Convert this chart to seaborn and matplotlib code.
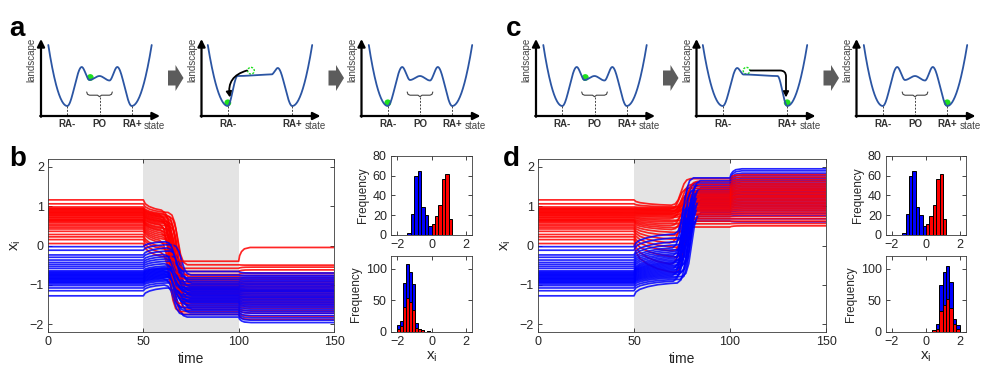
import numpy as np
import pandas as pd
import matplotlib
matplotlib.use("Agg")
import matplotlib.pyplot as plt
import matplotlib.patches as mpatches
import seaborn as sns

# ---------------------------------------------------------------- data
# initial states (t < 50), shared by panels b and d
red_start = [0.05, 0.15, 0.22, 0.28, 0.36, 0.42, 0.46, 0.50, 0.54, 0.58,
             0.61, 0.63, 0.65, 0.67, 0.70, 0.72, 0.75, 0.77, 0.79, 0.81,
             0.83, 0.85, 0.87, 0.89, 0.91, 0.93, 0.95, 0.98, 1.06, 1.16]
blue_start = [-1.28, -1.15, -1.08, -1.02, -0.98, -0.95, -0.93, -0.91, -0.89, -0.87,
              -0.85, -0.83, -0.81, -0.79, -0.77, -0.75, -0.73, -0.71, -0.69, -0.67,
              -0.64, -0.58, -0.53, -0.48, -0.43, -0.37, -0.30, -0.24, -0.12, -0.03]

# panel b: level just before the switch, plateau in the grey window, final level
b_red_mid = [-0.30, -0.20, -0.10, -0.05, 0.05, 0.10, 0.15, 0.20, 0.25, 0.30,
             0.35, 0.38, 0.42, 0.45, 0.50, 0.52, 0.55, 0.58, 0.60, 0.62,
             0.65, 0.67, 0.70, 0.72, 0.74, 0.76, 0.78, 0.80, 0.84, 0.88]
b_blue_mid = [-1.08, -1.00, -0.95, -0.90, -0.87, -0.84, -0.82, -0.80, -0.78, -0.76,
              -0.74, -0.72, -0.70, -0.68, -0.66, -0.64, -0.62, -0.60, -0.58, -0.56,
              -0.52, -0.46, -0.40, -0.34, -0.28, -0.22, -0.14, -0.06, 0.02, 0.10]
b_red_plateau = [-1.75, -1.68, -1.62, -1.57, -1.52, -1.47, -1.43, -1.39, -1.35, -1.31,
                 -1.27, -1.24, -1.21, -1.18, -1.15, -1.12, -1.09, -1.06, -1.03, -1.00,
                 -0.96, -0.92, -0.88, -0.84, -0.79, -0.74, -0.66, -0.58, -0.49, -0.40]
b_blue_plateau = [-1.82, -1.76, -1.71, -1.66, -1.62, -1.58, -1.54, -1.50, -1.46, -1.43,
                  -1.40, -1.37, -1.34, -1.31, -1.28, -1.25, -1.22, -1.19, -1.16, -1.13,
                  -1.10, -1.07, -1.04, -1.00, -0.96, -0.92, -0.87, -0.82, -0.75, -0.66]
b_red_final = [-1.88, -1.80, -1.72, -1.66, -1.60, -1.55, -1.50, -1.46, -1.42, -1.38,
               -1.34, -1.30, -1.26, -1.22, -1.18, -1.15, -1.12, -1.08, -1.04, -1.00,
               -0.96, -0.92, -0.87, -0.82, -0.76, -0.70, -0.62, -0.55, -0.50, -0.05]
b_blue_final = [-1.96, -1.90, -1.84, -1.78, -1.72, -1.67, -1.62, -1.57, -1.53, -1.49,
                -1.45, -1.41, -1.37, -1.33, -1.30, -1.26, -1.22, -1.18, -1.15, -1.12,
                -1.08, -1.04, -1.00, -0.96, -0.92, -0.88, -0.84, -0.80, -0.76, -0.70]

# panel d
d_red_mid = [-0.70, -0.50, -0.30, -0.15, -0.05, 0.05, 0.15, 0.25, 0.33, 0.40,
             0.45, 0.50, 0.55, 0.60, 0.64, 0.68, 0.72, 0.75, 0.78, 0.80,
             0.82, 0.84, 0.86, 0.88, 0.90, 0.92, 0.94, 0.96, 0.98, 1.02]
d_blue_mid = [-0.95, -0.90, -0.86, -0.82, -0.79, -0.76, -0.73, -0.70, -0.67, -0.64,
              -0.61, -0.58, -0.55, -0.52, -0.49, -0.46, -0.43, -0.40, -0.36, -0.32,
              -0.28, -0.24, -0.20, -0.15, -0.10, -0.05, 0.02, 0.10, 0.20, 0.30]
d_red_plateau = [0.47, 0.55, 0.62, 0.68, 0.73, 0.78, 0.82, 0.86, 0.90, 0.93,
                 0.96, 0.99, 1.02, 1.05, 1.08, 1.11, 1.14, 1.17, 1.20, 1.23,
                 1.26, 1.29, 1.32, 1.36, 1.40, 1.45, 1.50, 1.56, 1.63, 1.70]
d_blue_plateau = [0.62, 0.68, 0.74, 0.79, 0.84, 0.88, 0.92, 0.96, 1.00, 1.03,
                  1.06, 1.09, 1.12, 1.15, 1.18, 1.21, 1.24, 1.27, 1.30, 1.33,
                  1.36, 1.39, 1.42, 1.45, 1.48, 1.52, 1.56, 1.60, 1.65, 1.72]
d_red_final = [0.50, 0.56, 0.62, 0.68, 0.74, 0.80, 0.85, 0.90, 0.94, 0.98,
               1.02, 1.06, 1.10, 1.14, 1.18, 1.22, 1.25, 1.28, 1.32, 1.35,
               1.39, 1.42, 1.46, 1.50, 1.54, 1.58, 1.63, 1.68, 1.74, 1.80]
d_blue_final = [0.60, 0.68, 0.76, 0.82, 0.88, 0.93, 0.98, 1.02, 1.06, 1.10,
                1.14, 1.18, 1.22, 1.26, 1.30, 1.34, 1.38, 1.42, 1.46, 1.50,
                1.54, 1.58, 1.62, 1.66, 1.70, 1.74, 1.79, 1.84, 1.90, 1.95]

# switch times and transition profiles (fraction of change completed)
b_red_switch, b_blue_switch = 66.0, 68.0
d_red_switch, d_blue_switch = 76.0, 77.5
switch_spread = [0.0, -2.0, 1.5, -1.0, 2.5, -2.5, 1.0, -0.5, 2.0, -1.5]
b_onset_t = [50, 51, 53, 56, 60, 63]
b_onset_f = [0, 0.35, 0.6, 0.8, 0.95, 1]
d_onset_t = [50, 51, 53, 57, 62, 68, 74]
d_onset_f = [0, 0.3, 0.5, 0.7, 0.85, 0.95, 1]
switch_dt = [-5, -3, -1.5, 0, 1.5, 3, 5]
switch_f = [0, 0.05, 0.2, 0.5, 0.8, 0.95, 1]
release_t = [100, 100.5, 101.5, 103, 106]
release_f = [0, 0.4, 0.7, 0.9, 1]

# histograms
hist_top_blue_edges = [-1.4, -1.2, -1.0, -0.8, -0.6, -0.4, -0.2, 0.0]
hist_top_blue_counts = [2, 21, 60, 65, 28, 20, 9]
hist_top_red_edges = [0.0, 0.2, 0.4, 0.6, 0.8, 1.0, 1.2]
hist_top_red_counts = [11, 19, 30, 57, 62, 16]
hist_b_edges = [-2.0, -1.825, -1.65, -1.475, -1.3, -1.125, -0.95, -0.775, -0.6, -0.425, -0.25, -0.075]
hist_b_all = [11, 18, 78, 107, 95, 76, 14, 5, 3, 0, 1]
hist_b_red = [5, 9, 40, 54, 47, 34, 6, 4, 3, 0, 1]
hist_d_edges = [0.38, 0.58, 0.78, 0.98, 1.18, 1.38, 1.58, 1.78, 1.98]
hist_d_all = [3, 12, 75, 95, 105, 79, 21, 11]
hist_d_red = [3, 5, 33, 42, 52, 38, 12, 4]

# landscape schematics: key points (state, height) of extrema
land_po_x = [7.3, 26.3, 40.7, 48.5, 58.5, 68.5, 76.3, 90.7, 110.7]
land_po_y = [71, 10, 49, 36, 40, 35.5, 49, 10, 71]
land_neg_x = [6.3, 26.3, 36, 70, 76.3, 90.7, 110.7]
land_neg_y = [71, 10, 40, 41.5, 48, 10, 71]
land_pos_x = [6.3, 26.3, 40.7, 47, 81, 90.7, 110.7]
land_pos_y = [71, 10, 48, 41.5, 40, 10, 71]
state_names = ["RA-", "PO", "RA+"]
state_x = [26.3, 58.5, 90.7]
state_min_y = [10, 19.3, 10]
brace_x = [45.7, 46.5, 48.5, 56.5, 58.5, 60.5, 68.5, 70.5, 71.3]
brace_y = [24, 21.7, 20.8, 20.8, 19.3, 20.8, 20.8, 21.7, 24]

# ---------------------------------------------------------------- style
sns.set_style("ticks")
plt.rcParams["font.family"] = ["Liberation Sans", "DejaVu Sans"]
plt.rcParams["mathtext.fontset"] = "custom"
plt.rcParams["mathtext.rm"] = "Liberation Sans"
plt.rcParams["mathtext.it"] = "Liberation Sans"
TXT = "#262626"

W, H = 996, 374
fig = plt.figure(figsize=(W / 100, H / 100), dpi=100)


def px_axes(l, t, r, b):
    return fig.add_axes([l / W, 1 - b / H, (r - l) / W, (b - t) / H])


def style_axes(ax):
    for s in ax.spines.values():
        s.set_color("#3a3a3a")
        s.set_linewidth(0.6)
    ax.tick_params(direction="in", length=3, width=0.6, top=True, right=True,
                   colors=TXT, labelsize=9, pad=3)


# ---------------------------------------------------------------- top row: landscapes
ax_top = fig.add_axes([0, 1 - 140 / H, 1, 140 / H])
ax_top.set_xlim(0, W)
ax_top.set_ylim(140, 0)
ax_top.axis("off")

CURVE = "#2b55a3"
GREEN = "#1fe01f"


def well_curve(kx, ky, n=40):
    xs, ys = [], []
    last = len(kx) - 2
    for i in range(len(kx) - 1):
        t = np.linspace(0, 1, n)
        if i == 0:
            s = 1 - (1 - t) ** 2
        elif i == last:
            s = t ** 2
        else:
            s = t * t * (3 - 2 * t)
        xs.append(kx[i] + (kx[i + 1] - kx[i]) * t)
        ys.append(ky[i] + (ky[i + 1] - ky[i]) * s)
    return np.concatenate(xs), np.concatenate(ys)


def draw_landscape(ox, oy, kx, ky, show_po):
    ax_top.annotate("", xy=(ox, oy - 77), xytext=(ox, oy + 0.8),
                    arrowprops=dict(arrowstyle="-|>", lw=1.6, color="black",
                                    mutation_scale=11, shrinkA=0, shrinkB=0))
    ax_top.annotate("", xy=(ox + 119, oy), xytext=(ox - 0.8, oy),
                    arrowprops=dict(arrowstyle="-|>", lw=1.6, color="black",
                                    mutation_scale=11, shrinkA=0, shrinkB=0))
    xs, ys = well_curve(kx, ky)
    ax_top.plot(ox + xs, oy - ys, color=CURVE, lw=1.3, solid_capstyle="round")
    ax_top.text(ox - 9.5, oy - 56, "landscape", rotation=90, ha="center", va="center",
                fontsize=7, color="#444444")
    ax_top.text(ox + 103, oy + 10.5, "state", ha="left", va="center", fontsize=7, color="#444444")
    for name, sx, sy in zip(state_names, state_x, state_min_y):
        if name == "PO" and not show_po:
            continue
        ax_top.plot([ox + sx, ox + sx], [oy - sy, oy], color="#444444", lw=0.7, ls=(0, (2, 1.5)))
        ax_top.text(ox + sx, oy + 8, name, ha="center", va="center", fontsize=7,
                    fontweight="bold", color="#333333")
    if show_po:
        ax_top.plot(ox + np.array(brace_x), oy - np.array(brace_y), color="#444444", lw=0.8)


def gray_arrow(x0, yc):
    ax_top.add_patch(mpatches.FancyArrow(x0, yc, 15.5, 0, width=15, head_width=26,
                                         head_length=8, length_includes_head=True,
                                         color="#5c5c5c", lw=0))


for ox_base, tilted_x, tilted_y, final_ball_x, arrow_dir in [
        (41, land_neg_x, land_neg_y, 26.3, -1), (536, land_pos_x, land_pos_y, 90.7, 1)]:
    o1, o2, o3 = ox_base, ox_base + 160.5, ox_base + 320.5
    oy = 116
    draw_landscape(o1, oy, land_po_x, land_po_y, True)
    draw_landscape(o2, oy, tilted_x, tilted_y, False)
    draw_landscape(o3, oy, land_po_x, land_po_y, True)
    gray_arrow(o1 + 127, 78)
    gray_arrow(o2 + 127, 78)
    ax_top.add_patch(mpatches.Circle((o1 + 49.3, oy - 38.5), 3.4, color=GREEN, lw=0))
    ax_top.add_patch(mpatches.Circle((o2 + final_ball_x, oy - 13.2), 3.4, color=GREEN, lw=0))
    ax_top.add_patch(mpatches.Circle((o3 + final_ball_x, oy - 13.2), 3.4, color=GREEN, lw=0))
    ghost_x = 49.5 if arrow_dir < 0 else 50
    ax_top.add_patch(mpatches.Circle((o2 + ghost_x, oy - 45.3), 3.3, fill=False,
                                     edgecolor=GREEN, lw=1.0, ls=(0, (1.5, 1))))
    if arrow_dir < 0:
        start, end, cs = (o2 + 45.5, oy - 45.5), (o2 + 28.5, oy - 18.5), "arc3,rad=0.45"
    else:
        start, end, cs = (o2 + 54, oy - 45.5), (o2 + 89.5, oy - 18.5), "angle,angleA=0,angleB=90,rad=6"
    ax_top.annotate("", xy=end, xytext=start,
                    arrowprops=dict(arrowstyle="-|>", lw=1.3, color="black", mutation_scale=8,
                                    shrinkA=0, shrinkB=0, connectionstyle=cs))

# ---------------------------------------------------------------- trajectories
times = np.arange(0, 150.001, 0.25)


def traj_frame(starts, mids, plats, finals, centre, onset_t, onset_f, tag):
    parts = []
    for i in range(len(starts)):
        c = centre + switch_spread[i % len(switch_spread)]
        y = (starts[i]
             + (mids[i] - starts[i]) * np.interp(times, onset_t, onset_f)
             + (plats[i] - mids[i]) * np.interp(times - c, switch_dt, switch_f)
             + (finals[i] - plats[i]) * np.interp(times, release_t, release_f))
        parts.append(pd.DataFrame({"time": times, "x": y, "traj": f"{tag}{i}"}))
    return parts


def draw_main(ax, red_mid, blue_mid, red_plat, blue_plat, red_fin, blue_fin,
              r_sw, b_sw, onset_t, onset_f):
    reds = traj_frame(red_start, red_mid, red_plat, red_fin, r_sw, onset_t, onset_f, "r")
    blues = traj_frame(blue_start, blue_mid, blue_plat, blue_fin, b_sw, onset_t, onset_f, "b")
    df = pd.concat(reds + blues, ignore_index=True)
    order, pal = [], {}
    for i in range(len(red_start)):
        order += [f"r{i}", f"b{i}"]
        pal[f"r{i}"] = "#ff0000"
        pal[f"b{i}"] = "#0000ff"
    ax.axvspan(50, 100, color="#e4e4e4", lw=0, zorder=0)
    sns.lineplot(data=df, x="time", y="x", hue="traj", hue_order=order, palette=pal,
                 estimator=None, legend=False, lw=1.25, alpha=0.85, ax=ax, sort=False)
    ax.set_xlim(0, 150)
    ax.set_ylim(-2.2, 2.2)
    ax.set_xticks([0, 50, 100, 150])
    ax.set_yticks([-2, -1, 0, 1, 2])
    ax.set_xlabel("time", fontsize=10, color=TXT, labelpad=3)
    ax.set_ylabel(r"$\mathregular{x_i}$", fontsize=11, color=TXT, labelpad=5)
    style_axes(ax)


ax_b = px_axes(48, 159, 334, 332)
ax_d = px_axes(538, 159, 826, 332)
draw_main(ax_b, b_red_mid, b_blue_mid, b_red_plateau, b_blue_plateau, b_red_final, b_blue_final,
          b_red_switch, b_blue_switch, b_onset_t, b_onset_f)
draw_main(ax_d, d_red_mid, d_blue_mid, d_red_plateau, d_blue_plateau, d_red_final, d_blue_final,
          d_red_switch, d_blue_switch, d_onset_t, d_onset_f)

# ---------------------------------------------------------------- histograms


def centres(edges):
    e = np.asarray(edges, dtype=float)
    return (e[:-1] + e[1:]) / 2


def hist(ax, edges, counts, colour):
    sns.histplot(x=centres(edges), weights=counts, bins=edges, color=colour,
                 edgecolor="black", linewidth=0.7, alpha=1, ax=ax)


def style_hist(ax, ymax, yticks, xlabel):
    ax.set_xlim(-2.35, 2.35)
    ax.set_ylim(0, ymax)
    ax.set_xticks([-2, 0, 2])
    ax.set_yticks(yticks)
    ax.set_ylabel("Frequency", fontsize=8.5, color=TXT, labelpad=3)
    if xlabel:
        ax.set_xlabel(r"$\mathregular{x_i}$", fontsize=11, color=TXT, labelpad=1)
    else:
        ax.set_xlabel("")
    style_axes(ax)


for l, r in [(391, 472), (886, 966)]:
    ht = px_axes(l, 156, r, 235)
    hist(ht, hist_top_blue_edges, hist_top_blue_counts, "#0000ff")
    hist(ht, hist_top_red_edges, hist_top_red_counts, "#ff0000")
    style_hist(ht, 80, [0, 20, 40, 60, 80], False)

hb = px_axes(391, 256, 472, 332)
hist(hb, hist_b_edges, hist_b_all, "#0000ff")
hist(hb, hist_b_edges, hist_b_red, "#ff0000")
style_hist(hb, 120, [0, 50, 100], True)

hd = px_axes(886, 256, 966, 332)
hist(hd, hist_d_edges, hist_d_all, "#0000ff")
hist(hd, hist_d_edges, hist_d_red, "#ff0000")
style_hist(hd, 120, [0, 50, 100], True)

# ---------------------------------------------------------------- panel letters
for letter, x, y in [("a", 9, 36), ("b", 9, 166), ("c", 506, 36), ("d", 503, 166)]:
    fig.text(x / W, 1 - y / H, letter, fontsize=20, fontweight="bold", color="black",
             ha="left", va="baseline")

fig.savefig("out.png", dpi=100)
